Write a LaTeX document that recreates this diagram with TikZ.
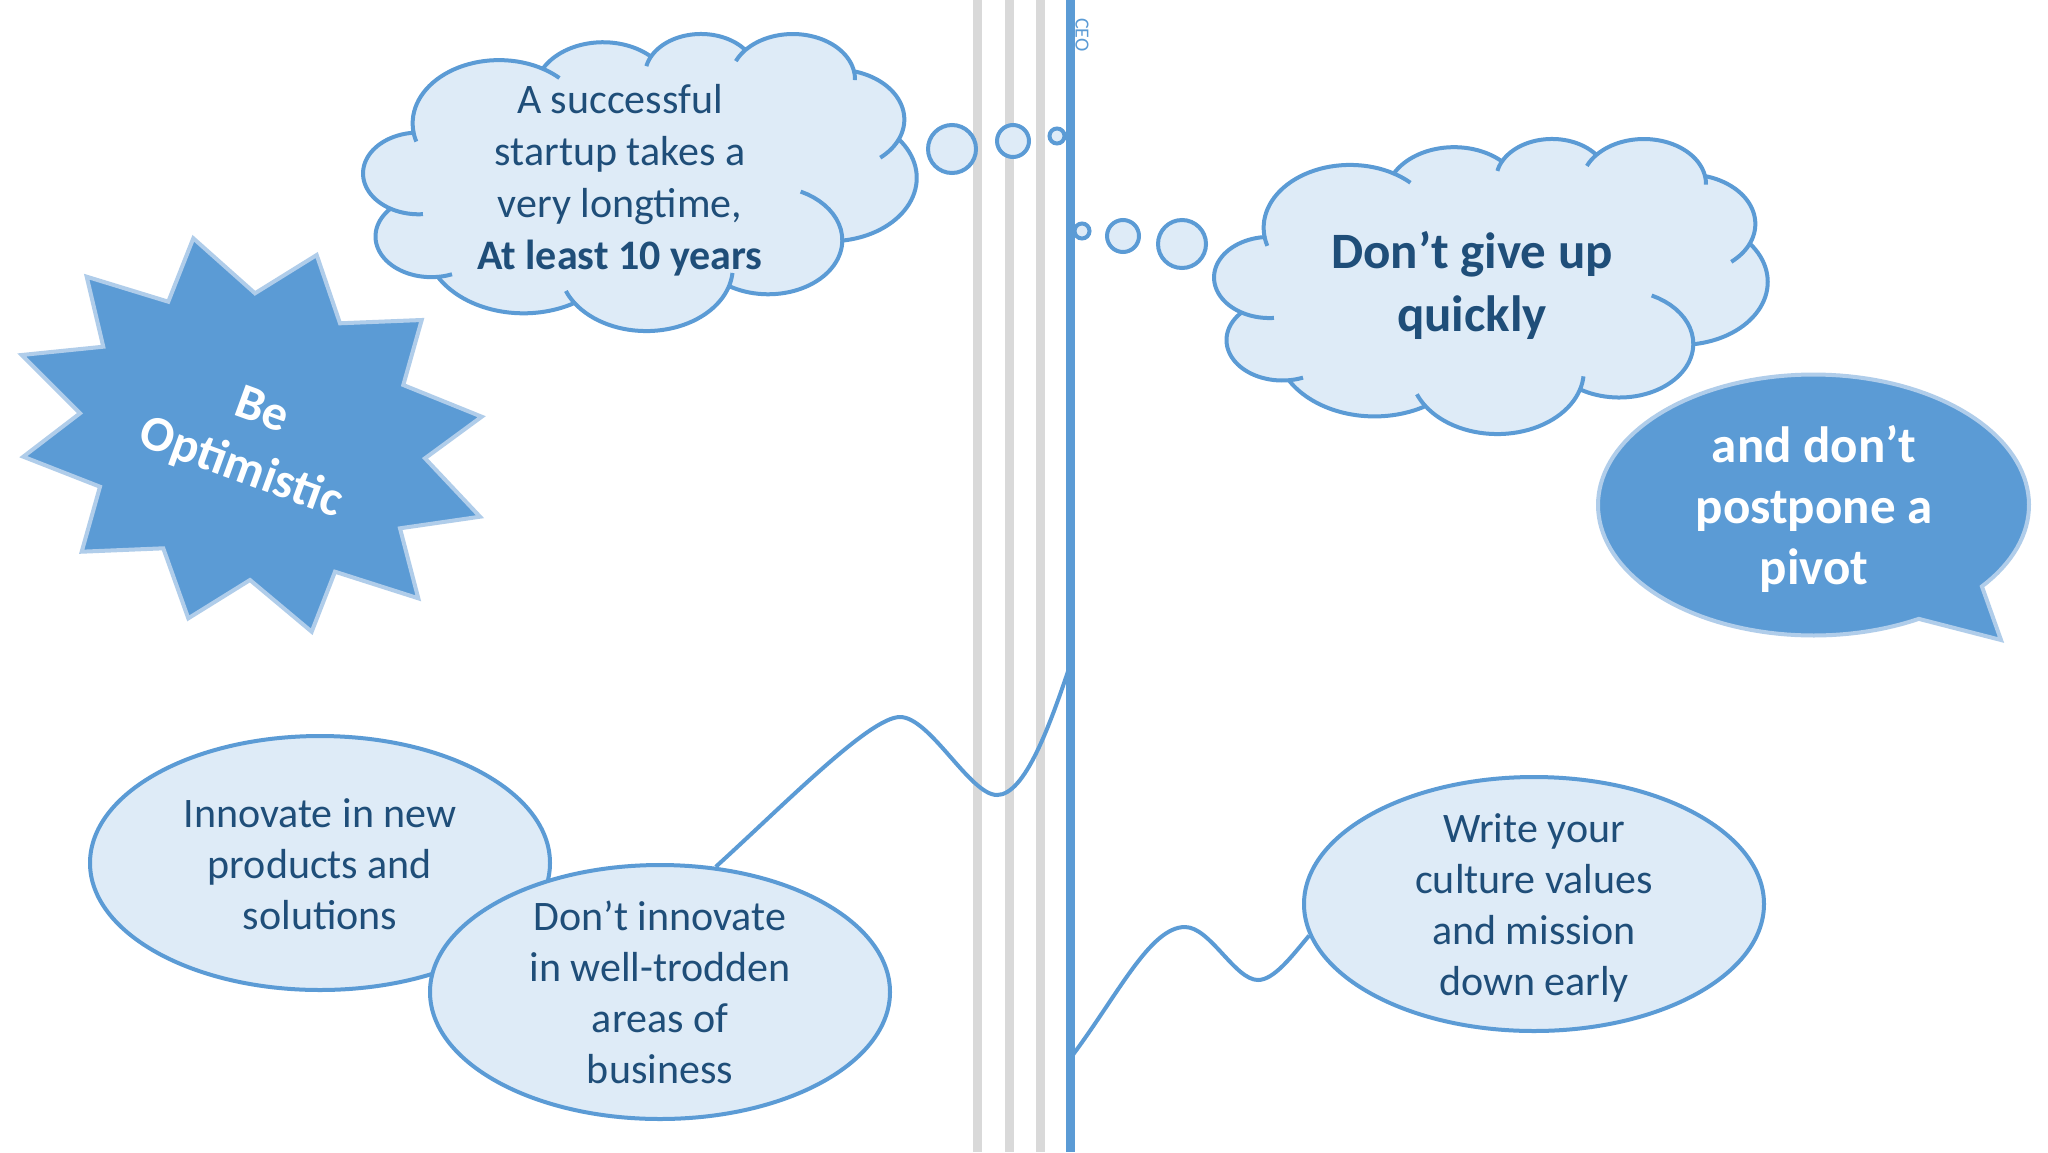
\documentclass[tikz,border=0pt]{standalone}
\usepackage{fontspec}
\setmainfont{Carlito}
\usetikzlibrary{shapes.geometric}
\definecolor{pblue}{HTML}{5B9BD5}
\definecolor{plight}{HTML}{DEEBF7}
\definecolor{pdark}{HTML}{1F4E79}
\definecolor{pgrey}{HTML}{D9D9D9}
\definecolor{pedge}{HTML}{B0CDEA}
\newcommand\pptcloud{%
\path[cloudbody] plot[domain=-187.746:-59.64] ({105.913+67.53*cos(\x)},{131.315+91.90*sin(\x)})
 -- plot[domain=-152.042:-45.42] ({187.149+53.33*cos(\x)},{86.090+72.67*sin(\x)})
 -- plot[domain=-153.489:-37.35] ({263.642+43.65*cos(\x)},{60.866+59.45*sin(\x)})
 -- plot[domain=-139.719:-10.211] ({335.374+48.57*cos(\x)},{67.428+65.95*sin(\x)})
 -- plot[domain=-74.767:23.213] ({369.164+53.33*cos(\x)},{125.911+72.73*sin(\x)})
 -- plot[domain=-37.516:81.862] ({364.439+67.75*cos(\x)},{210.729+92.20*sin(\x)})
 -- plot[domain=0.4596:121.976] ({316.181+57.85*cos(\x)},{301.370+78.67*sin(\x)})
 -- plot[domain=16.844:146.214] ({220.926+67.52*cos(\x)},{341.408+92.15*sin(\x)})
 -- plot[domain=58.985:150.181] ({125.031+77.20*cos(\x)},{302.298+105.43*sin(\x)})
 -- plot[domain=83.307:223.095] ({52.968+43.60*cos(\x)},{295.942+59.18*sin(\x)})
 -- plot[domain=120.354:264.112] ({43.075+43.45*cos(\x)},{204.230+59.45*sin(\x)})
 -- cycle;
\draw[cloudstub]
 plot[domain=85.546:120.354] ({43.075+43.45*cos(\x)},{204.230+59.45*sin(\x)})
 plot[domain=68.234:83.307] ({52.968+43.60*cos(\x)},{295.942+59.18*sin(\x)})
 plot[domain=146.214:158.473] ({220.926+67.52*cos(\x)},{341.408+92.15*sin(\x)})
 plot[domain=4.738:16.844] ({220.926+67.52*cos(\x)},{341.408+92.15*sin(\x)})
 plot[domain=-64.033:0.4596] ({316.181+57.85*cos(\x)},{301.370+78.67*sin(\x)})
 plot[domain=23.213:49.643] ({369.164+53.33*cos(\x)},{125.911+72.73*sin(\x)})
 plot[domain=-10.211:0.821] ({335.374+48.57*cos(\x)},{67.428+65.95*sin(\x)})
 plot[domain=-156.298:-139.719] ({335.374+48.57*cos(\x)},{67.428+65.95*sin(\x)})
 plot[domain=-167.726:-153.489] ({263.642+43.65*cos(\x)},{60.866+59.45*sin(\x)})
 plot[domain=-59.64:-45.736] ({105.913+67.53*cos(\x)},{131.315+91.90*sin(\x)})
 plot[domain=163.19:172.254] ({105.913+67.53*cos(\x)},{131.315+91.90*sin(\x)});
}
\begin{document}
\begin{tikzpicture}[x=1pt,y=-1pt,
  greyline/.style={draw=pgrey,line width=9pt},
  ceoline/.style={draw=pblue,line width=9pt},
  conn/.style={draw=pblue,line width=4pt},
  cloudbody/.style={fill=plight,draw=pblue,line width=4pt,line join=round,samples=36},
  cloudstub/.style={draw=pblue,line width=4pt,samples=12},
  bubble/.style={fill=plight,draw=pblue,line width=4pt},
  ellshape/.style={ellipse,fill=plight,draw=pblue,line width=4pt,minimum width=460pt,minimum height=254pt,inner sep=0pt},
  elltext/.style={font=\fontsize{42}{51}\selectfont,text=pdark,align=center,inner sep=0pt},
  cloudtext/.style={font=\fontsize{42}{52}\selectfont,text=pdark,align=center,inner sep=0pt},
  cloudbold/.style={font=\bfseries\fontsize{51}{63}\selectfont,text=pdark,align=center,inner sep=0pt},
  startext/.style={font=\bfseries\fontsize{50}{61}\selectfont,text=white,align=center,inner sep=0pt},
  speechtext/.style={font=\bfseries\fontsize{51}{61}\selectfont,text=white,align=center,inner sep=0pt},
  darkshape/.style={fill=pblue,draw=pedge,line width=4pt},
  ceotext/.style={font=\fontsize{20}{24}\selectfont,text=pblue,inner sep=0pt}]
\useasboundingbox (0,0) rectangle (2048,1152);
\fill[white] (0,0) rectangle (2048,1152);
% vertical lines
\draw[greyline] (977,0) -- (977,1152);
\draw[greyline] (1009,0) -- (1009,1152);
\draw[greyline] (1040,0) -- (1040,1152);
\coordinate (ceotop) at (1070.5,0);
\coordinate (ceobot) at (1070.5,1152);
\coordinate (ceoA) at (1070.5,664);
\coordinate (ceoB) at (1070.5,1058);
\draw[ceoline] (ceotop) -- (ceobot);
\node[ceotext,rotate=-90] (ceo) at (1082,35) {CEO};
% ellipses
\node[ellshape] (innov) at (320,863) {};
\node[ellshape] (dontinn) at (660,992) {};
\node[ellshape] (write) at (1534,904) {};
\node[elltext] (innovT) at (320,864) {Innovate in new\\products and\\solutions};
\node[elltext] (dontinnT) at (660,992) {Don’t innovate\\in well-trodden\\areas of\\business};
\node[elltext] (writeT) at (1534,908) {Write your\\culture values\\and mission\\down early};
% connectors
\draw[conn] (dontinn.66) .. controls (786,803) and (870,717) .. (900,717)
  .. controls (930,717) and (970,795) .. (997,795)
  .. controls (1025,795) and (1050,725) .. (ceoA);
\draw[conn] (ceoB) .. controls (1118,995) and (1150,927) .. (1185,927)
  .. controls (1210,927) and (1235,980) .. (1258,980)
  .. controls (1274,980) and (1292,956) .. (write.188);
% clouds
\begin{scope}[shift={(363.5pt,-33pt)},x=1.28009pt,y=-0.6875pt]
\pptcloud
\end{scope}
\begin{scope}[shift={(1214.5pt,-138pt)},x=1.28009pt,y=-0.68287pt]
\pptcloud
\end{scope}
\node[cloudtext] (cloudA) at (620,180.5) {A successful\\startup takes a\\very longtime,\\\textbf{At least 10 years}};
\node[cloudbold] (cloudB) at (1472,285.5) {Don’t give up\\quickly};
% thought circles
\draw[bubble] (952,149) circle[radius=24pt];
\draw[bubble] (1013,141) circle[radius=16pt];
\draw[bubble] (1057,136) circle[radius=7.5pt];
\draw[bubble] (1082,231) circle[radius=7.5pt];
\draw[bubble] (1123,236) circle[radius=16pt];
\draw[bubble] (1182,244) circle[radius=24pt];
% star
\draw[darkshape,line join=miter] (193.3,238.3) -- (255,293.3) -- (316.7,255) -- (340,323.3) -- (421.7,320) -- (403.3,385) -- (481.7,416.7) -- (425,458.3) -- (480,516.7) -- (400,528.3) -- (418.3,598.3) -- (335,571.7) -- (311.7,631.7) -- (250,580) -- (188.3,618.3) -- (163.3,548.3) -- (81.7,551.7) -- (100,486.7) -- (23.3,456.7) -- (80,413.3) -- (21.7,355) -- (103.3,346.7) -- (86.7,276.7) -- (168.3,301.7) -- cycle;
\node[startext,rotate=-20] (opt) at (251,441) {Be\\Optimistic};
% speech bubble
\path[darkshape,line join=miter] plot[domain=60.75:398.6,samples=140] ({1813.5+215.5*cos(\x)},{505+130.5*sin(\x)}) -- (2001,640) -- cycle;
\node[speechtext] (pivot) at (1814,508.5) {and don’t\\postpone a\\pivot};
\end{tikzpicture}
\end{document}
